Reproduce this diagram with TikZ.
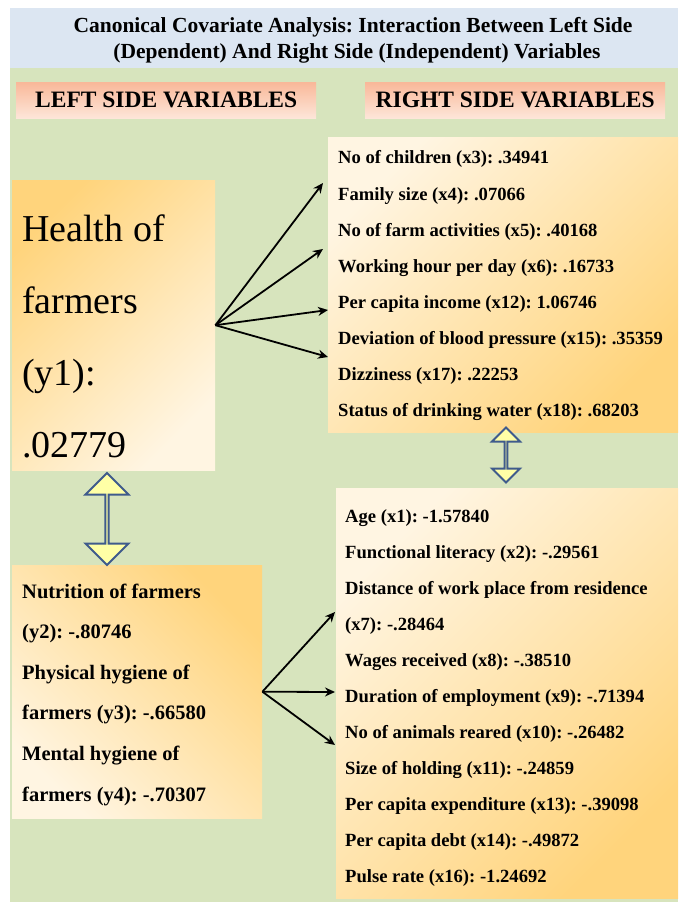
\documentclass[tikz,border=0pt]{standalone}
\usepackage{fontspec}
\setmainfont{Liberation Serif}
\usepackage{tikz}
\usetikzlibrary{positioning, shapes.arrows, arrows.meta}
\definecolor{bgGreen}{HTML}{D7E4BD}
\definecolor{titleBlue}{HTML}{DCE6F2}
\definecolor{salmonTop}{HTML}{F9B899}
\definecolor{salmonBot}{HTML}{FDE6D9}
\definecolor{boxOrange}{HTML}{FFD47C}
\definecolor{boxLight}{HTML}{FFF5E2}
\definecolor{linkBlue}{HTML}{3F5B8C}
\definecolor{linkYellow}{HTML}{FFFFA6}
\frenchspacing

\begin{document}
\begin{tikzpicture}[x=1pt, y=-1pt,
    panel/.style={anchor=north west, inner sep=0pt},
    header/.style={panel, minimum height=36pt, minimum width=300pt,
                   top color=salmonTop, bottom color=salmonBot},
    headtext/.style={font=\fontsize{23.5}{26}\selectfont\bfseries},
    varline/.style={anchor=base west, inner sep=0pt,
                    font=\fontsize{18.6}{21}\selectfont\bfseries},
    yline/.style={anchor=base west, inner sep=0pt,
                  font=\fontsize{20.5}{23}\selectfont\bfseries},
    dblarrow/.style={double arrow, draw=linkBlue, line width=2pt,
                     fill=linkYellow, inner sep=0pt, rotate=90},
    link/.style={-{Stealth[length=10pt, width=9pt]}, line width=1.8pt},
  ]
    \useasboundingbox (0,0) rectangle (678,904);
    % background
    \node[panel, fill=bgGreen, minimum width=668pt, minimum height=834pt] (bg) at (10,68) {};
    \node[panel, fill=titleBlue, minimum width=668pt, minimum height=60pt] (title) at (10,8) {};
    \node[font=\fontsize{21.5}{23}\selectfont\bfseries] (title1) at (353,27)
         {Canonical Covariate Analysis: Interaction Between Left Side};
    \node[font=\fontsize{21.5}{23}\selectfont\bfseries] (title2) at (357,53)
         {(Dependent) And Right Side (Independent) Variables};

    % column headers
    \node[header] (lefthead) at (16,82) {};
    \node[header] (righthead) at (365,82) {};
    \node[headtext] at (lefthead.center) {LEFT SIDE VARIABLES};
    \node[headtext] at (righthead.center) {RIGHT SIDE VARIABLES};

    % left side
    \node[panel, minimum width=203pt, minimum height=290pt,
          top color=boxOrange, bottom color=boxLight, shading angle=45] (health) at (12,180) {};
    \foreach \t [count=\i] in {Health of, farmers, (y1):, .02779}
      \node[anchor=base west, inner sep=0pt, font=\fontsize{38}{40}\selectfont]
           (h\i) at (22,{241+72*(\i-1)}) {\t};

    \node[panel, minimum width=250pt, minimum height=253pt,
          top color=boxOrange, bottom color=boxLight, shading angle=-45] (lower) at (12,565) {};
    \foreach \t [count=\i] in {Nutrition of farmers, (y2): -.80746, Physical hygiene of,
                                farmers (y3): -.66580, Mental hygiene of, farmers (y4): -.70307}
      \node[yline] (y\i) at (22,{598+40.6*(\i-1)}) {\t};

    \node[dblarrow, minimum height=92pt, minimum width=43pt,
          double arrow head extend=13pt] (linkL) at (107,519) {};

    % right side
    \node[panel, minimum width=350pt, minimum height=295pt,
          top color=boxLight, bottom color=boxOrange, shading angle=45] (upper) at (328,137) {};
    \foreach \t [count=\i] in {No of children (x3): .34941, Family size (x4): .07066,
                                No of farm activities (x5): .40168, Working hour per day (x6): .16733,
                                Per capita income (x12): 1.06746, Deviation of blood pressure (x15): .35359,
                                Dizziness (x17): .22253, Status of drinking water (x18): .68203}
      \node[varline] (u\i) at (338,{164+36.1*(\i-1)}) {\t};

    \node[panel, minimum width=342pt, minimum height=410pt,
          top color=boxLight, bottom color=boxOrange, shading angle=45] (under) at (336,488) {};
    \foreach \t [count=\i] in {Age (x1): -1.57840, Functional literacy (x2): -.29561,
                                Distance of work place from residence, (x7): -.28464,
                                Wages received (x8): -.38510, Duration of employment (x9): -.71394,
                                No of animals reared (x10): -.26482, Size of holding (x11): -.24859,
                                Per capita expenditure (x13): -.39098, Per capita debt (x14): -.49872,
                                Pulse rate (x16): -1.24692}
      \node[varline] (d\i) at (345,{522+36*(\i-1)}) {\t};

    \node[dblarrow, minimum height=55pt, minimum width=28pt,
          double arrow head extend=9pt] (linkR) at (506,455) {};

    % arrows
    \coordinate (ha) at (323,183);
    \coordinate (hb) at (323,249);
    \coordinate (hc) at (328,310);
    \coordinate (hd) at (328,357);
    \foreach \p in {ha,hb,hc,hd}
      \draw[link] (health.east) -- (\p);
    \coordinate (la) at (335,612);
    \coordinate (lb) at (335,692);
    \coordinate (lc) at (335,745);
    \foreach \p in {la,lb,lc}
      \draw[link] (lower.east) -- (\p);
\end{tikzpicture}
\end{document}
